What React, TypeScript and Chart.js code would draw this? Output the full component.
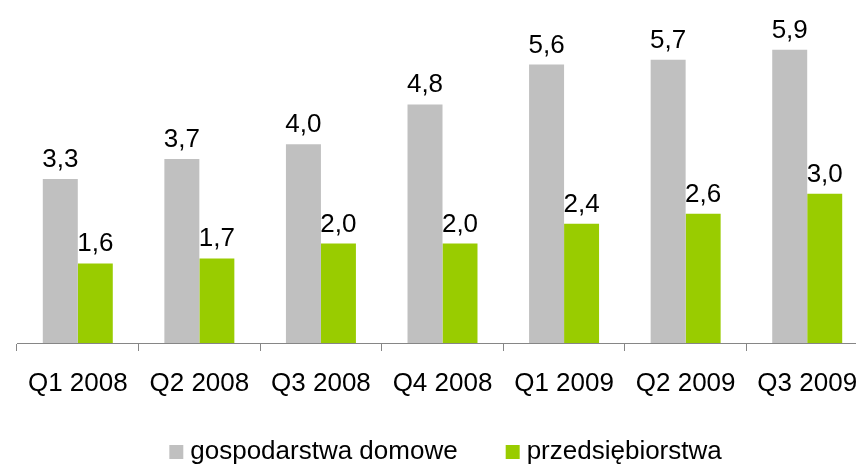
import React, { useEffect, useRef } from "react";
import { Chart, registerables } from "chart.js";

Chart.register(...registerables);

const categories = ["Q1 2008", "Q2 2008", "Q3 2008", "Q4 2008", "Q1 2009", "Q2 2009", "Q3 2009"];
const households = [3.3, 3.7, 4.0, 4.8, 5.6, 5.7, 5.9];
const companies = [1.6, 1.7, 2.0, 2.0, 2.4, 2.6, 3.0];
const seriesNames = ["gospodarstwa domowe", "przedsiębiorstwa"];

const FONT = "'Liberation Sans', Arial, sans-serif";
const GRAY = "#C0C0C0";
const GREEN = "#99CC00";
const AXIS = "#868686";

function legendSwatch(color: string): HTMLCanvasElement {
  const c = document.createElement("canvas");
  c.width = 28;
  c.height = 14;
  const g = c.getContext("2d");
  if (g) {
    g.fillStyle = color;
    g.fillRect(13, 0, 14, 14);
  }
  return c;
}

const valueLabels = {
  id: "valueLabels",
  afterDatasetsDraw(chart: any) {
    const ctx = chart.ctx;
    ctx.save();
    ctx.font = `26px ${FONT}`;
    ctx.fillStyle = "#000000";
    ctx.textAlign = "center";
    ctx.textBaseline = "alphabetic";
    chart.data.datasets.forEach((ds: any, di: number) => {
      const meta = chart.getDatasetMeta(di);
      meta.data.forEach((bar: any, i: number) => {
        const v = ds.data[i] as number;
        const txt = v.toFixed(1).replace(".", ",");
        ctx.fillText(txt, bar.x, bar.y - 12);
      });
    });
    ctx.restore();
  },
};

export default function App() {
  const ref = useRef<HTMLCanvasElement | null>(null);
  useEffect(() => {
    if (!ref.current) return;
    const chart = new Chart(ref.current, {
      type: "bar",
      data: {
        labels: categories,
        datasets: [
          {
            label: seriesNames[0],
            data: households,
            backgroundColor: GRAY,
            borderWidth: 0,
            categoryPercentage: 0.5757,
            barPercentage: 1,
            pointStyle: legendSwatch(GRAY),
          } as any,
          {
            label: seriesNames[1],
            data: companies,
            backgroundColor: GREEN,
            borderWidth: 0,
            categoryPercentage: 0.5757,
            barPercentage: 1,
            pointStyle: legendSwatch(GREEN),
          } as any,
        ],
      },
      options: {
        responsive: false,
        animation: false,
        devicePixelRatio: 1,
        layout: { padding: { left: 17, right: 32, top: 0, bottom: 0 } },
        plugins: {
          tooltip: { enabled: false },
          legend: {
            position: "bottom",
            labels: {
              font: { family: FONT, size: 26 },
              color: "#000000",
              usePointStyle: true,
              boxWidth: 14,
              boxHeight: 14,
              padding: 42,
            },
          },
        },
        scales: {
          x: {
            grid: {
              drawOnChartArea: false,
              drawTicks: true,
              tickLength: 8,
              color: AXIS,
              offset: true,
            },
            border: { display: true, color: AXIS, width: 1 },
            ticks: {
              font: { family: FONT, size: 26 },
              color: "#000000",
              padding: 17,
              maxRotation: 0,
              minRotation: 0,
              autoSkip: false,
            },
            afterFit: (scale: any) => {
              scale.height = 54;
            },
          },
          y: {
            display: false,
            min: 0,
            max: 6.9,
          },
        },
      },
      plugins: [valueLabels],
    });
    return () => chart.destroy();
  }, []);

  return (
    <div
      style={{
        position: "fixed",
        left: 0,
        top: 0,
        width: 856,
        height: 464,
        overflow: "hidden",
        background: "#ffffff",
      }}
    >
      <canvas ref={ref} width={900} height={475} style={{ display: "block" }} />
    </div>
  );
}
